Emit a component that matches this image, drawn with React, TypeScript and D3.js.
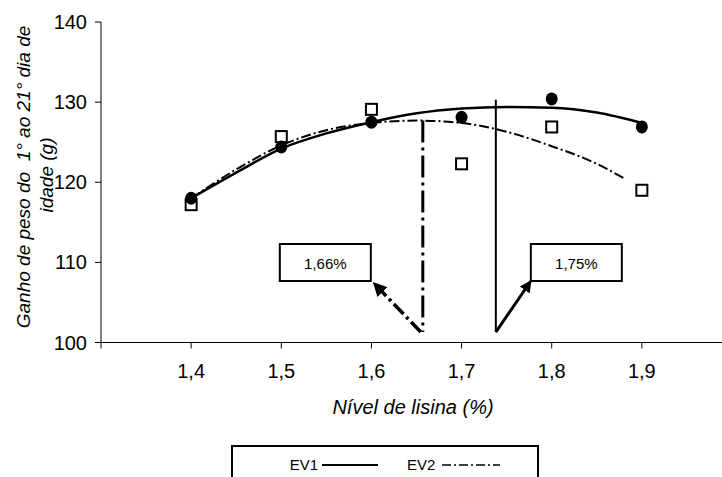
import { line, curveMonotoneX, scaleLinear } from 'd3'

const xCategories = [1.4, 1.5, 1.6, 1.7, 1.8, 1.9]
const xTickLabels = ['1,4', '1,5', '1,6', '1,7', '1,8', '1,9']
const yTicks = [100, 110, 120, 130, 140]

// observed means
const ev1Observed = [118.0, 124.4, 127.5, 128.1, 130.4, 126.9]
const ev2Observed = [117.2, 125.7, 129.1, 122.3, 126.9, 119.0]

// fitted curves
const ev1CurveX = [1.4, 1.45, 1.5, 1.55, 1.6, 1.65, 1.7, 1.75, 1.8, 1.85, 1.9]
const ev1CurveY = [118.0, 121.2, 124.2, 126.1, 127.5, 128.6, 129.2, 129.4, 129.3, 128.7, 127.4]
const ev2CurveX = [1.4, 1.45, 1.5, 1.55, 1.6, 1.65, 1.7, 1.75, 1.8, 1.85, 1.88]
const ev2CurveY = [118.0, 121.6, 124.6, 126.5, 127.4, 127.7, 127.4, 126.3, 124.5, 122.3, 120.5]

// optimum markers (position as drawn, label as printed)
const optimumX = [1.657, 1.738]
const optimumTop = [127.7, 130.3]
const optimumBottom = 101.3
const optimumLabels = ['1,66%', '1,75%']

const legendLabels = ['EV1', 'EV2']

const width = 722
const height = 477
const font = 'Liberation Sans, Arial, sans-serif'

const xScale = scaleLinear().domain([1.3, 2.0]).range([101, 732])
const yScale = scaleLinear().domain([100, 140]).range([342.5, 22])

const dashDot = '10 3 2 3'

function App() {
  const ev1Line = line<number>()
    .x((_, i) => xScale(ev1CurveX[i]))
    .y((d) => yScale(d))
    .curve(curveMonotoneX)
  const ev2Line = line<number>()
    .x((_, i) => xScale(ev2CurveX[i]))
    .y((d) => yScale(d))
    .curve(curveMonotoneX)

  const x0 = xScale(1.3)
  const y0 = yScale(100)

  const vx1 = xScale(optimumX[0])
  const vx2 = xScale(optimumX[1])
  const vBottom = yScale(optimumBottom)

  const boxW = 91
  const boxH = 37
  const boxTop = 244
  const box1 = { x: vx1 - 52 - boxW, y: boxTop }
  const box2 = { x: vx2 + 35, y: boxTop }

  const legendY = 465

  return (
    <svg
      width={width}
      height={height}
      viewBox={`0 0 ${width} ${height}`}
      style={{ position: 'absolute', left: 0, top: 0, background: '#fff' }}
      fontFamily={font}
    >
      <defs>
        <marker
          id="arrow"
          viewBox="0 0 10 10"
          refX="9"
          refY="5"
          markerWidth="4"
          markerHeight="4"
          orient="auto"
          markerUnits="strokeWidth"
        >
          <path d="M0,0 L10,5 L0,10 z" fill="#000" />
        </marker>
      </defs>

      {/* axes */}
      <line x1={x0} y1={yScale(140)} x2={x0} y2={y0 + 6} stroke="#000" strokeWidth={1} />
      <line x1={x0} y1={y0} x2={width} y2={y0} stroke="#000" strokeWidth={1} />

      {yTicks.map((tick) => (
        <g key={tick}>
          <line x1={x0 - 6} y1={yScale(tick)} x2={x0} y2={yScale(tick)} stroke="#000" />
          <text x={x0 - 14} y={yScale(tick)} dy="0.35em" textAnchor="end" fontSize={20}>
            {tick}
          </text>
        </g>
      ))}

      {xCategories.map((value, i) => (
        <g key={value}>
          <line x1={xScale(value)} y1={y0} x2={xScale(value)} y2={y0 + 6} stroke="#000" />
          <text x={xScale(value)} y={378} textAnchor="middle" fontSize={20}>
            {xTickLabels[i]}
          </text>
        </g>
      ))}

      <text x={413} y={414} textAnchor="middle" fontSize={20} fontStyle="italic">
        Nível de lisina (%)
      </text>

      <text
        transform="translate(30, 177) rotate(-90)"
        textAnchor="middle"
        fontSize={19}
        fontStyle="italic"
        style={{ whiteSpace: 'pre' }}
      >
        Ganho de peso do  1° ao 21° dia de
      </text>
      <text
        transform="translate(53, 175) rotate(-90)"
        textAnchor="middle"
        fontSize={19}
        fontStyle="italic"
      >
        idade (g)
      </text>

      {/* fitted curves */}
      <path d={ev1Line(ev1CurveY) ?? ''} fill="none" stroke="#000" strokeWidth={2.5} />
      <path
        d={ev2Line(ev2CurveY) ?? ''}
        fill="none"
        stroke="#000"
        strokeWidth={2}
        strokeDasharray={dashDot}
      />

      {/* optimum lines */}
      <line
        x1={vx1}
        y1={yScale(optimumTop[0])}
        x2={vx1}
        y2={vBottom}
        stroke="#000"
        strokeWidth={3}
        strokeDasharray="22 5 3 5"
      />
      <line
        x1={vx2}
        y1={yScale(optimumTop[1])}
        x2={vx2}
        y2={vBottom}
        stroke="#000"
        strokeWidth={2}
      />

      {/* arrows to boxes */}
      <line
        x1={vx1 - 2}
        y1={vBottom}
        x2={box1.x + boxW + 3}
        y2={box1.y + boxH + 2}
        stroke="#000"
        strokeWidth={3.5}
        strokeDasharray="14 4 3 4"
        markerEnd="url(#arrow)"
      />
      <line
        x1={vx2}
        y1={vBottom}
        x2={box2.x}
        y2={box2.y + boxH}
        stroke="#000"
        strokeWidth={3}
        markerEnd="url(#arrow)"
      />

      {[box1, box2].map((box, i) => (
        <g key={optimumLabels[i]}>
          <rect x={box.x} y={box.y} width={boxW} height={boxH} fill="#fff" stroke="#000" strokeWidth={2} />
          <text x={box.x + boxW / 2} y={box.y + 25} textAnchor="middle" fontSize={15}>
            {optimumLabels[i]}
          </text>
        </g>
      ))}

      {/* observed points */}
      {xCategories.map((value, i) => (
        <rect
          key={`ev2-${value}`}
          x={xScale(value) - 5.5}
          y={yScale(ev2Observed[i]) - 5.5}
          width={11}
          height={11}
          fill="#fff"
          stroke="#000"
          strokeWidth={2}
        />
      ))}
      {xCategories.map((value, i) => (
        <ellipse
          key={`ev1-${value}`}
          cx={xScale(value)}
          cy={yScale(ev1Observed[i])}
          rx={6}
          ry={6.5}
          fill="#000"
        />
      ))}

      {/* legend */}
      <rect x={232} y={446} width={306} height={50} fill="#fff" stroke="#000" strokeWidth={2} />
      <text x={318} y={legendY + 5} textAnchor="end" fontSize={15}>
        {legendLabels[0]}
      </text>
      <line x1={322} y1={legendY} x2={378} y2={legendY} stroke="#000" strokeWidth={2} />
      <text x={407} y={legendY + 5} fontSize={15}>
        {legendLabels[1]}
      </text>
      <line
        x1={442}
        y1={legendY}
        x2={500}
        y2={legendY}
        stroke="#000"
        strokeWidth={1.5}
        strokeDasharray="9 3 2 3"
      />
    </svg>
  )
}

export default App
